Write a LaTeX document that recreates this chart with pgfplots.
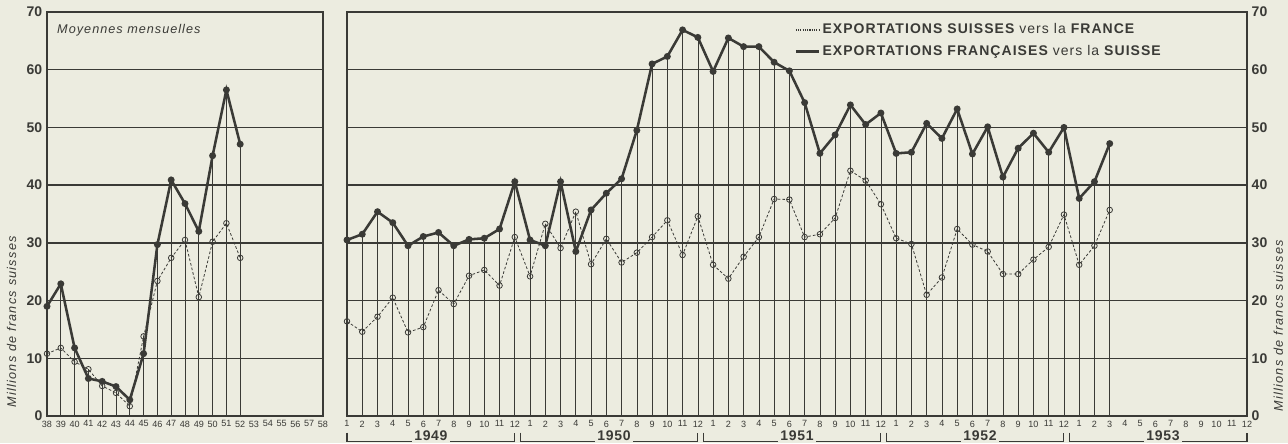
\documentclass[border=0pt]{standalone}
\usepackage{pgfplots}
\pgfplotsset{compat=1.18}
\usepackage{fontspec}
\setmainfont{Liberation Sans}
\setsansfont{Liberation Sans}
\definecolor{bg}{RGB}{236,236,224}
\definecolor{ink}{RGB}{58,58,54}
\pgfplotsset{
  panel/.style={
    scale only axis, height=303pt, ymin=0, ymax=70,
    ytick={0,10,...,70},
    /pgf/number format/assume math mode=true,
    ymajorgrids, grid style={ink, line width=1pt},
    axis line style={ink, line width=1.4pt},
    major tick length=0pt,
    tick label style={text=ink},
    yticklabel style={font=\fontsize{10.5}{12}\selectfont\bfseries},
    xticklabel style={font=\fontsize{6.8}{8}\selectfont},
    clip=false,
  },
  fr/.style={ink, line width=1.9pt, mark=*, mark size=1.6pt, mark options={fill=ink, draw=ink, solid}},
  ch/.style={ink, line width=0.6pt, dashed, dash pattern=on 2pt off 1.5pt, mark=o, mark size=2.1pt, mark options={solid, fill=bg, line width=0.6pt}},
  drop/.style={ycomb, ink, line width=0.5pt, no marks, forget plot},
}
\tikzset{yearlab/.style={anchor=base, fill=bg, inner xsep=1.5pt, inner ysep=1.2pt, text=ink, font=\fontsize{10.5}{12}\selectfont\bfseries\addfontfeature{LetterSpace=5}}}
\begin{document}
\begin{tikzpicture}
\fill[bg] (0,0) rectangle (966pt,332.25pt);
\path[use as bounding box] (0,0) rectangle (966pt,332.25pt);

% ---------------- left panel: annual means
\begin{axis}[panel, at={(35.25pt,20.25pt)}, width=207pt,
  xmin=38, xmax=58, xtick={38,...,58}]
\addplot[drop] coordinates {(38,19.0)(39,22.9)(40,11.8)(41,6.5)(42,6.0)(43,5.1)(44,2.8)(45,10.8)(46,29.7)(47,40.9)(48,36.8)(49,32.0)(50,45.1)(51,56.5)(52,47.1)};
\addplot[drop] coordinates {(38,10.8)(39,11.8)(40,9.4)(41,8.1)(42,5.2)(43,4.0)(44,1.7)(45,13.8)(46,23.4)(47,27.4)(48,30.5)(49,20.6)(50,30.2)(51,33.4)(52,27.4)};
\addplot[ch, forget plot] coordinates {(38,10.8)(39,11.8)(40,9.4)(41,8.1)(42,5.2)(43,4.0)(44,1.7)(45,13.8)(46,23.4)(47,27.4)(48,30.5)(49,20.6)(50,30.2)(51,33.4)(52,27.4)};
\addplot[fr, forget plot] coordinates {(38,19.0)(39,22.9)(40,11.8)(41,6.5)(42,6.0)(43,5.1)(44,2.8)(45,10.8)(46,29.7)(47,40.9)(48,36.8)(49,32.0)(50,45.1)(51,56.5)(52,47.1)};
\node[anchor=west, text=ink, font=\itshape\fontsize{9.5}{11}\selectfont\addfontfeature{LetterSpace=8}] at (rel axis cs:0.02,0.955) {Moyennes mensuelles};
\node[rotate=90, text=ink, font=\itshape\fontsize{9.5}{11}\selectfont\addfontfeature{LetterSpace=10}] at ([xshift=-26.5pt]rel axis cs:0,0.233) {Millions de francs suisses};
\end{axis}

% ---------------- right panel: monthly values
\begin{axis}[panel, at={(260.25pt,20.25pt)}, width=675pt,
  xmin=1, xmax=60, xtick={1,...,60}, yticklabel pos=right,
  xticklabels={1,2,3,4,5,6,7,8,9,10,11,12,1,2,3,4,5,6,7,8,9,10,11,12,1,2,3,4,5,6,7,8,9,10,11,12,1,2,3,4,5,6,7,8,9,10,11,12,1,2,3,4,5,6,7,8,9,10,11,12},
  legend style={at={(0.497,0.978)}, anchor=north west, draw=none, fill=none,
    font=\fontsize{10.5}{12}\selectfont\bfseries\addfontfeature{LetterSpace=7.5}, text=ink, row sep=3pt,
    inner sep=0pt},
  legend cell align=left]
\addlegendimage{ink, line width=1.2pt, dash pattern=on 0.8pt off 0.9pt}
\addlegendentry{EXPORTATIONS SUISSES {\mdseries vers la} FRANCE}
\addlegendimage{ink, line width=1.9pt}
\addlegendentry{EXPORTATIONS FRANÇAISES {\mdseries vers la} SUISSE}
\addplot[drop] table {
x y
1 30.5
2 31.5
3 35.4
4 33.5
5 29.5
6 31.1
7 31.8
8 29.5
9 30.6
10 30.8
11 32.4
12 40.6
13 30.5
14 33.3
15 40.6
16 35.4
17 35.7
18 38.6
19 41.1
20 49.5
21 61.0
22 62.3
23 66.9
24 65.6
25 59.7
26 65.5
27 64.0
28 64.0
29 61.3
30 59.8
31 54.3
32 45.5
33 48.7
34 53.9
35 50.5
36 52.5
37 45.5
38 45.7
39 50.7
40 48.1
41 53.2
42 45.4
43 50.1
44 41.4
45 46.4
46 49.0
47 45.7
48 50.0
49 37.7
50 40.6
51 47.2
};
\addplot[ch, forget plot] table {
x y
1 16.4
2 14.6
3 17.2
4 20.5
5 14.5
6 15.4
7 21.8
8 19.4
9 24.3
10 25.3
11 22.6
12 31.0
13 24.2
14 33.3
15 29.1
16 35.4
17 26.3
18 30.7
19 26.6
20 28.3
21 31.0
22 33.9
23 27.9
24 34.6
25 26.2
26 23.8
27 27.6
28 31.0
29 37.6
30 37.5
31 31.0
32 31.5
33 34.3
34 42.5
35 40.8
36 36.7
37 30.8
38 29.8
39 21.0
40 24.0
41 32.4
42 29.7
43 28.5
44 24.6
45 24.6
46 27.1
47 29.3
48 34.9
49 26.2
50 29.5
51 35.7
};
\addplot[fr, forget plot] table {
x y
1 30.5
2 31.5
3 35.4
4 33.5
5 29.5
6 31.1
7 31.8
8 29.5
9 30.6
10 30.8
11 32.4
12 40.6
13 30.5
14 29.5
15 40.6
16 28.5
17 35.7
18 38.6
19 41.1
20 49.5
21 61.0
22 62.3
23 66.9
24 65.6
25 59.7
26 65.5
27 64.0
28 64.0
29 61.3
30 59.8
31 54.3
32 45.5
33 48.7
34 53.9
35 50.5
36 52.5
37 45.5
38 45.7
39 50.7
40 48.1
41 53.2
42 45.4
43 50.1
44 41.4
45 46.4
46 49.0
47 45.7
48 50.0
49 37.7
50 40.6
51 47.2
};
% year brackets
\draw[ink, line width=0.8pt] ([yshift=-12.5pt]axis cs:1,0) -- ([yshift=-19pt]axis cs:1,0) -- ([yshift=-19pt]axis cs:12,0) -- ([yshift=-12.5pt]axis cs:12,0);
\draw[ink, line width=0.8pt] ([yshift=-12.5pt]axis cs:12.35,0) -- ([yshift=-19pt]axis cs:12.35,0) -- ([yshift=-19pt]axis cs:24,0) -- ([yshift=-12.5pt]axis cs:24,0);
\draw[ink, line width=0.8pt] ([yshift=-12.5pt]axis cs:24.35,0) -- ([yshift=-19pt]axis cs:24.35,0) -- ([yshift=-19pt]axis cs:36,0) -- ([yshift=-12.5pt]axis cs:36,0);
\draw[ink, line width=0.8pt] ([yshift=-12.5pt]axis cs:36.35,0) -- ([yshift=-19pt]axis cs:36.35,0) -- ([yshift=-19pt]axis cs:48,0) -- ([yshift=-12.5pt]axis cs:48,0);
\draw[ink, line width=0.8pt] ([yshift=-12.5pt]axis cs:48.35,0) -- ([yshift=-19pt]axis cs:48.35,0) -- ([yshift=-19pt]axis cs:60,0) -- ([yshift=-12.5pt]axis cs:60,0);
\node[yearlab] at ([yshift=-18.6pt]axis cs:6.5,0) {1949};
\node[yearlab] at ([yshift=-18.6pt]axis cs:18.5,0) {1950};
\node[yearlab] at ([yshift=-18.6pt]axis cs:30.5,0) {1951};
\node[yearlab] at ([yshift=-18.6pt]axis cs:42.5,0) {1952};
\node[yearlab] at ([yshift=-18.6pt]axis cs:54.5,0) {1953};
\node[rotate=90, text=ink, font=\itshape\fontsize{9.5}{11}\selectfont\addfontfeature{LetterSpace=10}] at ([xshift=23.5pt]rel axis cs:1,0.223) {Millions de francs suisses};
\end{axis}
\end{tikzpicture}
\end{document}
